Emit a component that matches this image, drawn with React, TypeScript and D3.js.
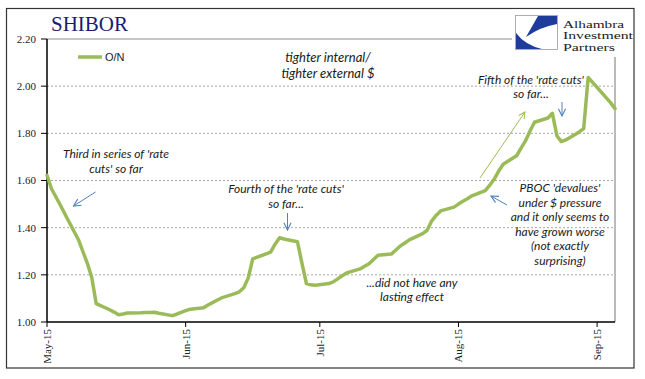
import React from "react";
import * as d3 from "d3";

const dates = [
  "2015-05-04","2015-05-05","2015-05-06","2015-05-07","2015-05-08",
  "2015-05-11","2015-05-12","2015-05-13","2015-05-14","2015-05-15",
  "2015-05-18","2015-05-19","2015-05-20","2015-05-21","2015-05-22",
  "2015-05-25","2015-05-26","2015-05-27","2015-05-28","2015-05-29",
  "2015-06-01","2015-06-02","2015-06-03","2015-06-04","2015-06-05",
  "2015-06-08","2015-06-09","2015-06-10","2015-06-11","2015-06-12",
  "2015-06-15","2015-06-16","2015-06-17","2015-06-18","2015-06-19",
  "2015-06-23","2015-06-24","2015-06-25","2015-06-26",
  "2015-06-29","2015-06-30","2015-07-01","2015-07-02","2015-07-03",
  "2015-07-06","2015-07-07","2015-07-08","2015-07-09","2015-07-10",
  "2015-07-13","2015-07-14","2015-07-15","2015-07-16","2015-07-17",
  "2015-07-20","2015-07-21","2015-07-22","2015-07-23","2015-07-24",
  "2015-07-27","2015-07-28","2015-07-29","2015-07-30","2015-07-31",
  "2015-08-03","2015-08-04","2015-08-05","2015-08-06","2015-08-07",
  "2015-08-10","2015-08-11","2015-08-12","2015-08-13","2015-08-14",
  "2015-08-17","2015-08-18","2015-08-19","2015-08-20","2015-08-21",
  "2015-08-24","2015-08-25","2015-08-26","2015-08-27","2015-08-28",
  "2015-08-31","2015-09-01","2015-09-02","2015-09-07","2015-09-08",
];

const onValues = [
  1.622, 1.565, 1.530, 1.495, 1.458,
  1.350, 1.300, 1.250, 1.190, 1.078,
  1.052, 1.042, 1.031, 1.034, 1.038,
  1.039, 1.040, 1.040, 1.041, 1.037,
  1.027, 1.033, 1.041, 1.048, 1.054,
  1.060, 1.072, 1.082, 1.092, 1.102,
  1.120, 1.128, 1.145, 1.187, 1.268,
  1.296, 1.330, 1.357, 1.352,
  1.340, 1.250, 1.163, 1.158, 1.156,
  1.163, 1.170, 1.183, 1.196, 1.208,
  1.225, 1.236, 1.247, 1.265, 1.283,
  1.288, 1.305, 1.322, 1.335, 1.348,
  1.375, 1.389, 1.428, 1.452, 1.471,
  1.487, 1.500, 1.512, 1.523, 1.535,
  1.557, 1.580, 1.606, 1.640, 1.669,
  1.705, 1.737, 1.769, 1.810, 1.847,
  1.865, 1.885, 1.790, 1.765, 1.772,
  1.806, 1.820, 2.037, 1.930, 1.905,
];

const xTickDates = ["2015-05-04", "2015-06-04", "2015-07-04", "2015-08-04", "2015-09-04"];
const xTickLabels = ["May-15", "Jun-15", "Jul-15", "Aug-15", "Sep-15"];
const yTicks = [1.0, 1.2, 1.4, 1.6, 1.8, 2.0, 2.2];
const xDomain = ["2015-05-04", "2015-09-08"];

const parse = d3.utcParse("%Y-%m-%d");

const PL = 47, PR = 615, PT = 39, PB = 322;
const GREEN = "#9BBB59";
const BLUE = "#4F81BD";
const SERIF = "'Liberation Serif', 'Times New Roman', serif";
const ITAL = "Lato, 'Open Sans', sans-serif";

export default function App() {
  const x = d3.scaleUtc().domain(xDomain.map((d) => parse(d) as Date)).range([PL, PR]);
  const y = d3.scaleLinear().domain([1.0, 2.2]).range([PB, PT]);
  const data = dates.map((d, i) => ({ date: parse(d) as Date, v: onValues[i] }));
  const line = d3
    .line<{ date: Date; v: number }>()
    .x((d) => x(d.date))
    .y((d) => y(d.v));

  const annoStyle = { fontFamily: ITAL, fontStyle: "italic" as const, fill: "#1a1a1a" };

  const multi = (lines: string[], cx: number, y0: number, dy: number, fs: number) => (
    <text x={cx} y={y0} textAnchor="middle" fontSize={fs} style={annoStyle}>
      {lines.map((t, i) => (
        <tspan key={i} x={cx} y={y0 + i * dy}>
          {t}
        </tspan>
      ))}
    </text>
  );

  return (
    <svg width={645} height={379} style={{ position: "absolute", left: 0, top: 0, background: "#fff" }}>
      <defs>
        <marker id="ab" viewBox="0 0 10 10" refX="9" refY="5" markerWidth="9" markerHeight="9" orient="auto" markerUnits="userSpaceOnUse">
          <path d="M1,1 L9,5 L1,9" fill="none" stroke={BLUE} strokeWidth={1.2} />
        </marker>
        <marker id="ag" viewBox="0 0 10 10" refX="9" refY="5" markerWidth="8" markerHeight="8" orient="auto" markerUnits="userSpaceOnUse">
          <path d="M1,1 L9,5 L1,9" fill="none" stroke={GREEN} strokeWidth={1.2} />
        </marker>
      </defs>
      <rect x={0} y={0} width={645} height={379} fill="#fff" />
      {/* outer frame */}
      <rect x={6.5} y={8.5} width={627.5} height={359.5} fill="none" stroke="#333" strokeWidth={1.2} />

      {/* grid */}
      {yTicks.filter((t) => t > 1.0 && t < 2.2).map((t) => (
        <line key={t} x1={PL} x2={PR} y1={y(t)} y2={y(t)} stroke="#a6a6a6" strokeWidth={1} strokeDasharray="2,2" />
      ))}
      {/* plot border top & right */}
      <line x1={PL} x2={PR} y1={y(2.2)} y2={y(2.2)} stroke="#8c8c8c" strokeWidth={1.2} />
      <line x1={PR} x2={PR} y1={PT} y2={PB} stroke="#8c8c8c" strokeWidth={1.2} />

      {/* axes */}
      <line x1={PL} x2={PL} y1={PT} y2={PB} stroke="#000" strokeWidth={1.5} />
      <line x1={PL} x2={PR} y1={PB} y2={PB} stroke="#000" strokeWidth={1.5} />
      {yTicks.map((t) => (
        <g key={t}>
          <line x1={PL - 6} x2={PL} y1={y(t)} y2={y(t)} stroke="#000" strokeWidth={1} />
          <text x={36} y={y(t)} dy="0.35em" textAnchor="end" fontSize={11} fontFamily={SERIF} fill="#222">
            {d3.format(".2f")(t)}
          </text>
        </g>
      ))}
      {xTickDates.map((d, i) => {
        const xx = x(parse(d) as Date);
        return (
          <g key={d}>
            <line x1={xx} x2={xx} y1={PB} y2={PB + 5} stroke="#000" strokeWidth={1} />
            <text
              transform={`translate(${xx},${PB + 7}) rotate(-90)`}
              textAnchor="end"
              dy="0.35em"
              fontSize={11}
              fontFamily={SERIF}
              fill="#222"
            >
              {xTickLabels[i]}
            </text>
          </g>
        );
      })}

      {/* series */}
      <path d={line(data) || ""} fill="none" stroke={GREEN} strokeWidth={3.5} strokeLinejoin="round" strokeLinecap="round" />

      {/* legend */}
      <line x1={78} x2={102} y1={57} y2={57} stroke={GREEN} strokeWidth={3.5} />
      <text x={105} y={57} dy="0.35em" fontSize={11} fontFamily="'Liberation Sans', Arial, sans-serif" fill="#222">
        O/N
      </text>

      {/* title */}
      <text x={51} y={31} fontSize={21} fontFamily={SERIF} fill="#1b1b72">
        SHIBOR
      </text>

      {/* logo */}
      <rect x={512} y={9.5} width={121} height={47.5} fill="#fff" />
      <rect x={515.5} y={15.5} width={42} height={34} fill="#fff" stroke="#9a9a9a" strokeWidth={0.8} />
      <path d="M538,16 L557,16 L557,24 Q540,27 526,37 Z" fill="#1e3c9c" />
      <path d="M516,33 L516,49 L542,49 Q525,45 516,33 Z" fill="#1e3c9c" />
      <text fontSize={10.5} fontFamily={SERIF} fill="#222">
        <tspan x={563} y={27.5} textLength={61} lengthAdjust="spacingAndGlyphs">Alhambra</tspan>
      </text>
      <text fontSize={10.5} fontFamily={SERIF} fill="#222">
        <tspan x={563} y={39} textLength={70} lengthAdjust="spacingAndGlyphs">Investment</tspan>
      </text>
      <text fontSize={10.5} fontFamily={SERIF} fill="#222">
        <tspan x={563} y={50.5} textLength={52} lengthAdjust="spacingAndGlyphs">Partners</tspan>
      </text>

      {/* annotations */}
      {multi(["tighter internal/", "tighter external $"], 328, 62, 15.5, 13)}
      {multi(["Third in series of 'rate", "cuts' so far"], 116, 158, 14.5, 12)}
      <line x1={95.5} y1={192} x2={73.5} y2={206} stroke={BLUE} strokeWidth={1} markerEnd="url(#ab)" />
      {multi(["Fourth of the 'rate cuts'", "so far..."], 286, 192.5, 15, 12)}
      <line x1={287.5} y1={213} x2={287.5} y2={230} stroke={BLUE} strokeWidth={1} markerEnd="url(#ab)" />
      {multi(["...did not have any", "lasting effect"], 412, 287, 14, 12)}
      {multi(["PBOC 'devalues'", "under $ pressure", "and it only seems to", "have grown worse", "(not exactly", "surprising)"], 560, 192, 14.5, 12)}
      <line x1={507} y1={205} x2={491} y2={196} stroke={BLUE} strokeWidth={1} markerEnd="url(#ab)" />
      {multi(["Fifth of the 'rate cuts'", "so far..."], 531, 83.5, 14.5, 12)}
      <line x1={562} y1={102} x2={562} y2={116} stroke={BLUE} strokeWidth={1} markerEnd="url(#ab)" />
      <line x1={480} y1={178} x2={525} y2={112} stroke={GREEN} strokeWidth={1} markerEnd="url(#ag)" />
    </svg>
  );
}
